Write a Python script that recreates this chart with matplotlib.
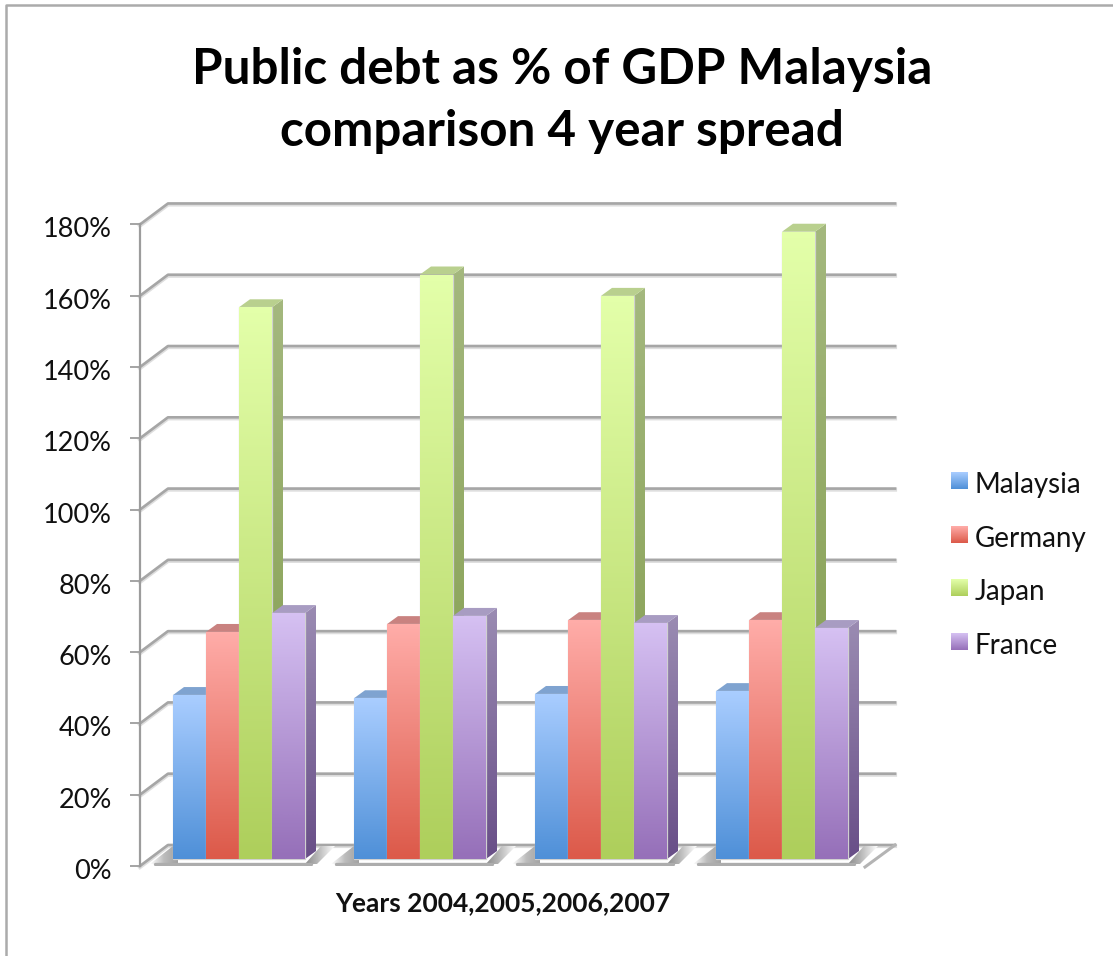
import matplotlib
matplotlib.use("Agg")
import matplotlib.pyplot as plt
import numpy as np
from matplotlib.colors import LinearSegmentedColormap
from matplotlib.lines import Line2D
from matplotlib.patches import Polygon
from matplotlib.transforms import ScaledTranslation

years = [2004, 2005, 2006, 2007]
malaysia = [46.0, 45.1, 46.3, 47.1]
germany = [63.7, 65.9, 67.0, 67.0]
japan = [154.8, 164.0, 158.0, 176.0]
france = [69.0, 68.2, 66.2, 64.8]
series_names = ["Malaysia", "Germany", "Japan", "France"]
series_values = [malaysia, germany, japan, france]
tick_values = list(range(0, 181, 20))

# per-series shading: front top/bottom, side top/bottom, top face
shades = {
    "Malaysia": ("#a9cdff", "#4f90d8", "#7f9cc8", "#3f6ea8", "#7fa3d0"),
    "Germany": ("#ffaca8", "#dc5a4a", "#b87c78", "#a04438", "#c98280"),
    "Japan": ("#e3ffa9", "#aecf5c", "#a4b87e", "#7f9a48", "#b9d08e"),
    "France": ("#d5c0f2", "#9670b9", "#9a8bb2", "#694f88", "#a89cc2"),
}

W, H = 1113, 956
PX_X = 181.0      # pixels per category
PX_Y = 3.564      # pixels per percentage point
BASE_PX = 859.0   # pixel row of the bar baseline
C0_PX = 239.0     # pixel column of the first category centre

def dx(px):
    return px / PX_X

def dy(px):
    return px / PX_Y

fig = plt.figure(figsize=(W / 100, H / 100), dpi=100, facecolor="white")
plt.rcParams["font.family"] = ["Lato", "DejaVu Sans"]

left, right, bottom, top = 140, 895, 866, 203.5
ax = fig.add_axes([left / W, 1 - bottom / H, (right - left) / W, (bottom - top) / H])
xlim = ((left - C0_PX) / PX_X, (right - C0_PX) / PX_X)
ylim = ((BASE_PX - bottom) / PX_Y, (BASE_PX - top) / PX_Y)

front = dy(-7)    # front edge of the floor, relative to the baseline
back = dy(14)     # back wall, relative to the baseline
wall_x0 = xlim[0]
wall_x1 = xlim[0] + dx(28)

# gridlines along the back wall and the left wall
for t in tick_values:
    ax.plot([wall_x0, wall_x1, xlim[1]], [t + front + dy(-1), t + back + dy(-1), t + back + dy(-1)],
            color="#dedede", lw=3.0, zorder=1, clip_on=False, solid_joinstyle="round")
    ax.plot([wall_x0, wall_x1, xlim[1]], [t + front, t + back, t + back],
            color="#a6a6a6", lw=1.9, zorder=2, clip_on=False, solid_joinstyle="round")

# right-hand edge of the floor
ax.plot([xlim[1], xlim[1] - dx(30)], [back, front + dy(-1)], color="#b4b4b4",
        lw=2.2, zorder=2, clip_on=False)

grey_fade = LinearSegmentedColormap.from_list(
    "fade", [(0, "#ffffff"), (0.5, "#bcbcbc"), (1, "#a2a2a2")])
grey_fade_r = LinearSegmentedColormap.from_list(
    "fade_r", [(0, "#8c8c8c"), (0.4, "#b4b4b4"), (1, "#ffffff")])

def gradient_patch(poly, extent, cmap, horizontal=False, zorder=3):
    ramp = np.linspace(0, 1, 64)
    arr = ramp.reshape(1, -1) if horizontal else ramp.reshape(-1, 1)
    im = ax.imshow(arr, extent=extent, cmap=cmap, aspect="auto", origin="upper",
                   interpolation="bilinear", vmin=0, vmax=1, zorder=zorder)
    patch = Polygon(poly, closed=True, transform=ax.transData, fill=False, edgecolor="none")
    ax.add_patch(patch)
    im.set_clip_path(patch)
    return im

n_series = len(series_names)
bar_w = dx(33)
side_x = dx(11)
side_y = dy(8)
order = 10

for g in range(len(years)):
    g0 = g - n_series * bar_w / 2
    g1 = g + n_series * bar_w / 2
    # floor shadow on either side of each cluster
    y_low, y_high = dy(-5), dy(13)
    gradient_patch([(g0 - dx(23), y_low), (g0, y_high), (g0 + dx(5), y_high), (g0 + dx(5), y_low)],
                   (g0 - dx(23), g0 + dx(5), y_low, y_high), grey_fade, horizontal=True)
    gradient_patch([(g1 - dx(5), y_low), (g1, y_low), (g1 + dx(16), y_high), (g1 + dx(30), y_high),
                    (g1 + dx(12), y_low)],
                   (g1, g1 + dx(30), y_low, y_high), grey_fade_r, horizontal=True)
    ax.plot([g0 - dx(18), g1 + dx(6)], [dy(-4.5), dy(-4.5)], color="#adadad", lw=2.4,
            zorder=4, solid_capstyle="round")

    for s, name in enumerate(series_names):
        v = series_values[s][g]
        x0 = g0 + s * bar_w
        x1 = x0 + bar_w
        f_top, f_bot, s_top, s_bot, t_face = shades[name]
        # right-hand side of the bar
        side_cmap = LinearSegmentedColormap.from_list(name + "_side", [s_top, s_bot])
        gradient_patch([(x1, 0), (x1 + side_x, side_y), (x1 + side_x, v + side_y), (x1, v)],
                       (x1, x1 + side_x, 0, v + side_y), side_cmap, zorder=order)
        # top of the bar
        ax.add_patch(Polygon([(x0, v), (x0 + side_x, v + side_y), (x1 + side_x, v + side_y), (x1, v)],
                             closed=True, facecolor=t_face, edgecolor="none", zorder=order + 1))
        # pale rim around the front face
        ax.add_patch(Polygon([(x0, 0), (x0, v), (x1, v), (x1, 0)], closed=True, fill=False,
                             edgecolor="#d0d0d0", lw=0.9, zorder=order + 1))
        # front face
        front_cmap = LinearSegmentedColormap.from_list(name + "_front", [f_top, f_bot])
        gradient_patch([(x0, 0), (x0, v), (x1, v), (x1, 0)], (x0, x1, 0, v), front_cmap,
                       zorder=order + 2)
        order += 3

ax.set_xlim(*xlim)
ax.set_ylim(*ylim)
ax.patch.set_alpha(0)

# value axis on the front-left corner
for side in ("top", "right", "bottom"):
    ax.spines[side].set_visible(False)
ax.spines["left"].set_color("#9c9c9c")
ax.spines["left"].set_linewidth(1.6)
ax.spines["left"].set_bounds(front, 180 + front)
ax.set_yticks([t + front for t in tick_values], [f"{t}%" for t in tick_values])
ax.tick_params(axis="y", length=7, width=1.4, color="#a4a4a4", pad=13, labelsize=19.5,
               labelcolor="#111111")
label_shift = ScaledTranslation(0, -3 / 100, fig.dpi_scale_trans)
for lab in ax.get_yticklabels():
    lab.set_transform(lab.get_transform() + label_shift)
ax.set_xticks([])
ax.set_xlabel("Years 2004,2005,2006,2007", fontsize=19, fontweight="bold", color="#111111",
              labelpad=18, x=(503 - left) / (right - left))

fig.text(562 / W, 1 - 100.5 / H, "Public debt as % of GDP Malaysia\ncomparison 4 year spread",
         ha="center", va="center", fontsize=35.6, fontweight="bold", color="black", linespacing=1.47)

# legend with gradient swatches
leg = fig.add_axes([951 / W, 1 - 660 / H, 150 / W, 200 / H])
leg.axis("off")
for name, yc in zip(series_names, [481, 535, 588, 642]):
    f_top, f_bot = shades[name][:2]
    cmap = LinearSegmentedColormap.from_list(name + "_key", [f_top, f_bot])
    leg.imshow(np.linspace(0, 1, 32).reshape(-1, 1), extent=(951, 968, yc + 8.5, yc - 8.5),
               cmap=cmap, aspect="auto", origin="upper", interpolation="bilinear")
    leg.text(975, yc + 4, name, fontsize=20, color="#111111", va="center", ha="left")
leg.set_xlim(951, 1101)
leg.set_ylim(660, 460)

# outer chart frame, open on the right and at the bottom
frame = Line2D([6 / W, 6 / W, 1], [0, 1 - 5 / H, 1 - 5 / H], transform=fig.transFigure,
               color="#ababab", lw=1.8)
fig.add_artist(frame)

fig.savefig("out.png", dpi=100)
